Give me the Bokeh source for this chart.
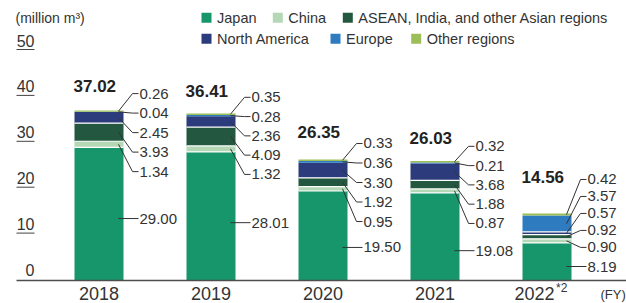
from bokeh.plotting import figure
from bokeh.models import ColumnDataSource, Range1d
from bokeh.core.properties import value
from bokeh.embed import file_html
from bokeh.resources import INLINE

# ---------------- data ----------------
years = ["2018", "2019", "2020", "2021", "2022"]
year_notes = ["", "", "", "", "*2"]
totals = [37.02, 36.41, 26.35, 26.03, 14.56]
japan = [29.00, 28.01, 19.50, 19.08, 8.19]
china = [1.34, 1.32, 0.95, 0.87, 0.90]
asean = [3.93, 4.09, 1.92, 1.88, 0.92]
north_america = [2.45, 2.36, 3.30, 3.68, 0.57]
europe = [0.04, 0.28, 0.36, 0.21, 3.57]
other_regions = [0.26, 0.35, 0.33, 0.32, 0.42]
y_ticks = [0, 10, 20, 30, 40, 50]
series_names = ["Japan", "China", "ASEAN, India, and other Asian regions",
                "North America", "Europe", "Other regions"]
unit_label = "(million m³)"
fy_label = "(FY)"

# ---------------- styles / layout ----------------
colors = ["#16966a", "#b4d8b6", "#24573f", "#2b3b7b", "#2e7bc0", "#9cbe58"]
FONT = value("Liberation Sans")
TXT = "#333333"

W, H = 626, 303
PITCH = 112.0        # px between bar centres
FIRST_BAR = 98.5     # x of first bar centre
YS = 4.59            # px per unit
BASE = 280.0         # y (from top) of value 0
BAR_W_PX = 49

def dx(px):
    return (px - FIRST_BAR) / PITCH

def dy(py):
    return (BASE - py) / YS

def wx(n):
    return n / PITCH

def hy(n):
    return n / YS

# label layout per bar: (first label above total, step, Japan label y, total label above total)
LABEL_LAYOUT = [
    (3.7, 4.25, 13.5, 5.3),
    (3.5, 4.2, 12.6, 4.8),
    (3.5, 4.25, 7.2, 6.0),
    (3.2, 4.2, 6.5, 5.1),
    (7.45, 3.7, 3.05, 8.0),
]

p = figure(width=W, height=H, output_backend="svg", toolbar_location=None,
           x_range=Range1d(dx(0), dx(W)),
           y_range=Range1d(dy(H), dy(0)),
           min_border=0, x_axis_type=None, y_axis_type=None)
p.outline_line_color = None
p.background_fill_color = "white"
p.border_fill_color = "white"

keys = ["japan", "china", "asean", "na", "europe", "other"]
series = [japan, china, asean, north_america, europe, other_regions]
src = ColumnDataSource(dict(x=list(range(len(years))),
                            **{k: v for k, v in zip(keys, series)}))
bw = wx(BAR_W_PX)
p.vbar_stack(keys, x="x", width=bw, fill_color=colors, line_color=None, source=src)

# separators between segments
sx0, sx1, sy = [], [], []
for i in range(len(years)):
    vals = [s[i] for s in series]
    cum = 0.0
    for j in range(len(vals) - 1):
        cum += vals[j]
        if vals[j] >= 0.5 and vals[j + 1] >= 0.5:
            sx0.append(i - bw / 2)
            sx1.append(i + bw / 2)
            sy.append(cum)
p.segment(x0=sx0, x1=sx1, y0=sy, y1=sy, line_color="white", line_width=1.2)

# leader lines and value labels
lx, ly, lt = [], [], []
mxs, mys = [], []
for i in range(len(years)):
    vals = [s[i] for s in series]
    first, step, jy, tdy = LABEL_LAYOUT[i]
    right = i + bw / 2
    bottoms = []
    cum = 0.0
    for v in vals:
        bottoms.append(cum)
        cum += v
    order = [5, 4, 3, 2, 1]   # top-down: other, europe, NA, ASEAN, China
    for n, j in enumerate(order):
        yl = totals[i] + first - n * step
        ys = bottoms[j] + vals[j] / 2
        mxs.append([right - wx(5), right + wx(9), right + wx(15)])
        mys.append([ys, yl, yl])
        lx.append(right + wx(16))
        ly.append(yl)
        lt.append(f"{vals[j]:.2f}")
    mxs.append([right - wx(5), right + wx(15)])
    mys.append([jy, jy])
    lx.append(right + wx(16))
    ly.append(jy)
    lt.append(f"{vals[0]:.2f}")
p.multi_line(xs=mxs, ys=mys, line_color="#333333", line_width=1)
p.text(x=lx, y=ly, text=lt, text_font=FONT, text_font_size="15px",
       text_color=TXT, text_baseline="middle", text_align="left")

# totals
tx = [i - bw / 2 - wx(1) for i in range(len(years))]
ty = [totals[i] + LABEL_LAYOUT[i][3] for i in range(len(years))]
p.text(x=tx, y=ty, text=[f"{t:.2f}" for t in totals], text_font=FONT,
       text_font_size="17px", text_font_style="bold", text_color="#222222",
       text_baseline="middle", text_align="left")

# y tick labels with underline
p.text(x=[dx(34)] * len(y_ticks), y=[t + hy(10.5) for t in y_ticks],
       text=[str(t) for t in y_ticks], text_font=FONT, text_font_size="16px",
       text_color=TXT, text_align="right", text_baseline="middle")
ut = [t for t in y_ticks if t > 0]
p.segment(x0=[dx(16)] * len(ut), x1=[dx(34)] * len(ut),
          y0=[t + hy(1.5) for t in ut], y1=[t + hy(1.5) for t in ut],
          line_color="#444444", line_width=1)

# baseline axis
p.segment(x0=[dx(16)], x1=[dx(630)], y0=[0], y1=[0], line_color="#4d4d4d", line_width=1.6)

# year labels
for i, (yr, note) in enumerate(zip(years, year_notes)):
    if note:
        p.text(x=[i + wx(7.5)], y=[dy(292.5)], text=[yr], text_font=FONT,
               text_font_size="18px", text_color=TXT, text_align="right",
               text_baseline="middle")
        p.text(x=[i + wx(9)], y=[dy(287)], text=[note], text_font=FONT,
               text_font_size="12px", text_color=TXT, text_align="left",
               text_baseline="middle")
    else:
        p.text(x=[i], y=[dy(292.5)], text=[yr], text_font=FONT,
               text_font_size="18px", text_color=TXT, text_align="center",
               text_baseline="middle")
p.text(x=[dx(600)], y=[dy(294)], text=[fy_label], text_font=FONT,
       text_font_size="13px", text_color=TXT, text_align="left",
       text_baseline="middle")

# unit label
p.text(x=[dx(15)], y=[dy(17)], text=[unit_label], text_font=FONT,
       text_font_size="14px", text_color=TXT, text_align="left",
       text_baseline="middle")

# legend
LEG_POS = [(201, 17.3), (272.3, 17.3), (342.3, 17.3),
           (201, 38.3), (330, 38.3), (410.7, 38.3)]
p.rect(x=[dx(a + 5) for a, b in LEG_POS], y=[dy(b) for a, b in LEG_POS],
       width=wx(10), height=hy(10), fill_color=colors, line_color=None)
p.text(x=[dx(a + 15.5) for a, b in LEG_POS], y=[dy(b) for a, b in LEG_POS],
       text=series_names, text_font=FONT, text_font_size="14.5px", text_color=TXT,
       text_align="left", text_baseline="middle")

open("out.html", "w").write(file_html(p, INLINE))
